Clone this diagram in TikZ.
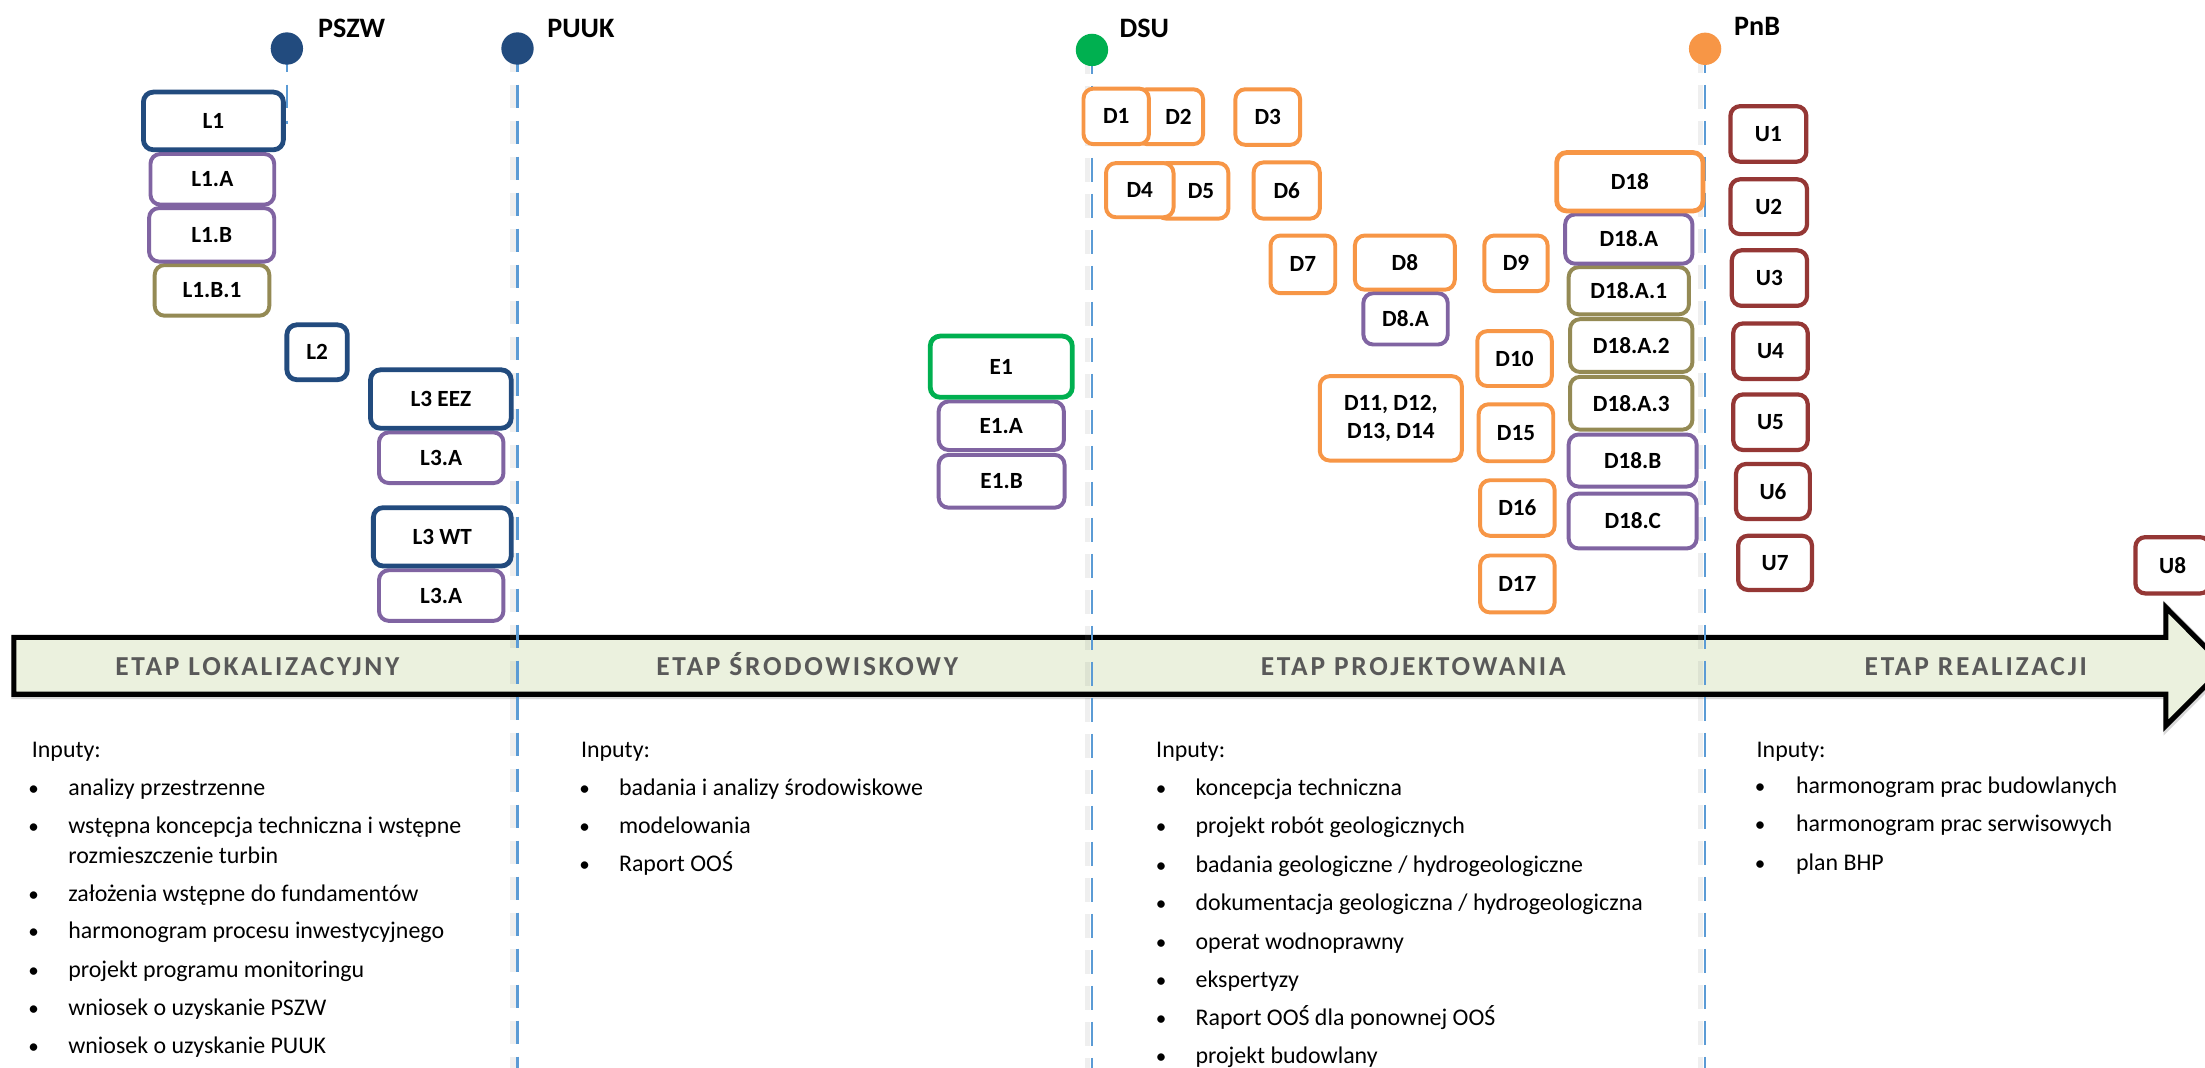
\documentclass[tikz,border=0pt]{standalone}
\usepackage{fontspec}
\setmainfont{Carlito}
\newfontfamily\etapfont{Carlito}[LetterSpace=10]
\definecolor{navy}{RGB}{34,75,126}
\definecolor{purp}{RGB}{128,100,162}
\definecolor{olive}{RGB}{148,138,84}
\definecolor{grn}{RGB}{0,176,80}
\definecolor{orng}{RGB}{247,150,70}
\definecolor{dred}{RGB}{149,55,53}
\definecolor{lineblue}{RGB}{91,155,213}
\definecolor{arrowfill}{RGB}{235,241,222}
\definecolor{etapgray}{RGB}{89,89,89}
\newcommand\mybox[7][]{%
  \pgfmathsetmacro\bxcx{(#3+#5)/2}%
  \pgfmathsetmacro\bxcy{(#4+#6)/2}%
  \pgfmathsetmacro\bxw{#5-#3-3}%
  \pgfmathsetmacro\bxh{#6-#4-3}%
  \node[box,#1,minimum width=\bxw pt,minimum height=\bxh pt] (#2) at (\bxcx,\bxcy) {#7};%
}
\begin{document}
\begin{tikzpicture}[x=1pt,y=-1pt,
  box/.style={draw, rounded corners=7pt, fill=white, line width=2.8pt, inner sep=0pt,
    font=\bfseries\fontsize{16.5}{19.6}\selectfont, align=center},
  thick box/.style={line width=3.4pt},
  ubox/.style={draw=dred, line width=3.0pt},
  milestone/.style={circle, inner sep=0pt, minimum size=23pt},
  mlabel/.style={inner sep=0pt, anchor=base west, font=\bfseries\fontsize{20}{24}\selectfont},
  vline/.style={line width=1.5pt, draw=lineblue, dash pattern=on 17pt off 8.6pt},
  vshadow/.style={line width=4pt, draw=gray, opacity=0.12, dash pattern=on 17pt off 8.6pt,
    transform canvas={xshift=-3.2pt}},
  etap/.style={inner sep=0pt, anchor=base, text=etapgray, font=\etapfont\bfseries\fontsize{19.5}{22}\selectfont},
  txt/.style={inner sep=0pt, anchor=base west, font=\fontsize{17}{20}\selectfont},
  bul/.style={inner sep=0pt, anchor=base, font=\fontsize{15}{20}\selectfont}
]
\useasboundingbox (0,0) rectangle (1568,759);
\fill[white] (0,0) rectangle (1568,759);
\clip (0,0) rectangle (1568,759);

% ---- main arrow ----
\draw[line width=5pt, draw=gray!60, opacity=0.5, line join=miter, transform canvas={shift={(0.8pt,-1pt)}}]
  (9.8,453.3) -- (1540.2,453.3) -- (1540.2,432) -- (1582,474) -- (1540.2,516) -- (1540.2,493.7) -- (9.8,493.7) -- cycle;
\draw[line width=3.6pt, fill=arrowfill, line join=miter]
  (9.8,453.3) -- (1540.2,453.3) -- (1540.2,432) -- (1582,474) -- (1540.2,516) -- (1540.2,493.7) -- (9.8,493.7) -- cycle;

\node[etap] (etap1) at (183,480.3) {ETAP LOKALIZACYJNY};
\node[etap] (etap2) at (574,480.3) {ETAP ŚRODOWISKOWY};
\node[etap] (etap3) at (1005,480.3) {ETAP PROJEKTOWANIA};
\node[etap] (etap4) at (1405,480.3) {ETAP REALIZACJI};

% ---- milestone lines ----
\coordinate (cPSZW) at (204,34.5);
\coordinate (cPUUK) at (368,34.5);
\coordinate (cDSU) at (776.5,35.5);
\coordinate (cPnB) at (1212.5,34.7);
\coordinate (ePSZW) at (204,88);
\coordinate (ePUUK) at (368,770);
\coordinate (eDSU) at (776.5,770);
\coordinate (ePnB) at (1212.5,770);

\draw[vshadow] (cPUUK) -- (ePUUK);
\draw[vshadow] (cDSU) -- (eDSU);
\draw[vshadow] (cPnB) -- (ePnB);
\draw[vline] (cPSZW) -- (ePSZW);
\draw[vline] (cPUUK) -- (ePUUK);
\draw[vline] (cDSU) -- (eDSU);
\draw[vline] (cPnB) -- (ePnB);

\node[milestone, fill=navy] (PSZW) at (cPSZW) {};
\node[milestone, fill=navy] (PUUK) at (cPUUK) {};
\node[milestone, fill=grn] (DSU) at (cDSU) {};
\node[milestone, fill=orng] (PnB) at (cPnB) {};
\node[mlabel] (tPSZW) at (226,26.5) {PSZW};
\node[mlabel] (tPUUK) at (389,26.5) {PUUK};
\node[mlabel] (tDSU) at (796,26.5) {DSU};
\node[mlabel] (tPnB) at (1233,25) {PnB};

% ---- L boxes ----
\mybox[draw=olive]{L1B1}{108.5}{187}{193}{226}{L1.B.1}
\mybox[draw=purp]{L1A}{105.5}{108}{196.5}{147}{L1.A}
\mybox[draw=purp]{L1B}{104.5}{146.5}{196.5}{187.5}{L1.B}
\mybox[draw=navy,thick box]{L1}{100.5}{64}{203}{108}{L1}
\mybox[draw=navy,thick box]{L2}{202.5}{229.5}{248.5}{271.5}{L2}
\mybox[draw=purp]{L3EEZA}{268}{306}{359.5}{345}{L3.A}
\mybox[draw=navy,thick box]{L3EEZ}{262}{261.5}{365}{306}{L3 EEZ}
\mybox[draw=purp]{L3WTA}{268}{404}{359.5}{443}{L3.A}
\mybox[draw=navy,thick box]{L3WT}{264}{359.5}{365}{404}{L3 WT}

% ---- E boxes ----
\mybox[draw=purp]{E1A}{666}{284}{758}{321.5}{E1.A}
\mybox[draw=purp]{E1B}{666}{322}{758.5}{362.5}{E1.B}
\mybox[draw=grn,thick box]{E1}{660}{237.5}{764}{284}{E1}

% ---- D boxes ----
\mybox[draw=orng]{D2}{807}{62}{857}{104}{\hspace*{12pt}D2}
\mybox[draw=orng]{D1}{769}{61.5}{818.5}{104}{D1}
\mybox[draw=orng]{D3}{877}{62}{926}{104.5}{D3}
\mybox[draw=orng]{D5}{821}{114.5}{875}{157}{\hspace*{12pt}D5}
\mybox[draw=orng]{D4}{785}{114.5}{836}{156}{D4}
\mybox[draw=orng]{D6}{890}{114}{940}{157}{D6}
\mybox[draw=orng]{D7}{902}{166}{951}{210}{D7}
\mybox[draw=purp]{D8A}{968}{207}{1031}{246.5}{D8.A}
\mybox[draw=orng]{D8}{962}{166}{1036}{207.5}{D8}
\mybox[draw=orng]{D9}{1054}{166}{1102}{208.5}{D9}
\mybox[draw=orng]{D10}{1049}{234}{1105}{276}{D10}
\mybox[draw=orng]{D11}{937}{266}{1041}{329}{D11, D12,\\D13, D14}
\mybox[draw=orng]{D15}{1050}{286}{1106}{329.5}{D15}
\mybox[draw=orng]{D16}{1051}{340}{1107}{382.5}{D16}
\mybox[draw=orng]{D17}{1051}{393.5}{1107}{437}{D17}
\mybox[draw=olive]{D18A1}{1114}{188.5}{1202.5}{225}{D18.A.1}
\mybox[draw=olive]{D18A2}{1115}{225.5}{1205}{266}{D18.A.2}
\mybox[draw=olive]{D18A3}{1115}{266.5}{1205}{307}{D18.A.3}
\mybox[draw=purp]{D18C}{1114}{349.5}{1208}{391.5}{D18.C}
\mybox[draw=purp]{D18B}{1114}{307.5}{1208}{347.5}{D18.B}
\mybox[draw=purp]{D18A}{1111.5}{151}{1205}{189}{D18.A}
\mybox[draw=orng,thick box]{D18}{1105.5}{107}{1212.5}{151.5}{D18}

% ---- U boxes ----
\mybox[ubox]{U1}{1229}{74}{1286}{116.5}{U1}
\mybox[ubox]{U2}{1229}{126}{1286.5}{168}{U2}
\mybox[ubox]{U3}{1230}{176.5}{1286.5}{219}{U3}
\mybox[ubox]{U4}{1231}{228.5}{1287}{271}{U4}
\mybox[ubox]{U5}{1231}{279}{1287}{321.5}{U5}
\mybox[ubox]{U6}{1233}{328.5}{1288.5}{370.5}{U6}
\mybox[ubox]{U7}{1234.5}{379.5}{1290}{421}{U7}
\mybox[ubox]{U8}{1517}{380.5}{1573}{423.5}{U8}

% ---- inputs column 1 ----
\node[txt] (a0) at (22.5,538.5) {Inputy:};
\node[bul] (ab1) at (24,565.5) {•};
\node[txt] (a1) at (48.4,565.5) {analizy przestrzenne};
\node[bul] (ab2) at (24,592.8) {•};
\node[txt] (a2) at (48.4,592.8) {wstępna koncepcja techniczna i wstępne};
\node[txt] (a2b) at (48.4,614.2) {rozmieszczenie turbin};
\node[bul] (ab3) at (24,641) {•};
\node[txt] (a3) at (48.4,641) {założenia wstępne do fundamentów};
\node[bul] (ab4) at (24,667.6) {•};
\node[txt] (a4) at (48.4,667.6) {harmonogram procesu inwestycyjnego};
\node[bul] (ab5) at (24,695) {•};
\node[txt] (a5) at (48.4,695) {projekt programu monitoringu};
\node[bul] (ab6) at (24,722) {•};
\node[txt] (a6) at (48.4,722) {wniosek o uzyskanie PSZW};
\node[bul] (ab7) at (24,749) {•};
\node[txt] (a7) at (48.4,749) {wniosek o uzyskanie PUUK};

% ---- inputs column 2 ----
\node[txt] (b0) at (413,538.5) {Inputy:};
\node[bul] (bb1) at (415.7,565.5) {•};
\node[txt] (b1) at (440,565.5) {badania i analizy środowiskowe};
\node[bul] (bb2) at (415.7,592.8) {•};
\node[txt] (b2) at (440,592.8) {modelowania};
\node[bul] (bb3) at (415.7,619.8) {•};
\node[txt] (b3) at (440,619.8) {Raport OOŚ};

% ---- inputs column 3 ----
\node[txt] (c0) at (822,538.5) {Inputy:};
\node[bul] (cb1) at (825.7,565.5) {•};
\node[txt] (c1) at (850,565.5) {koncepcja techniczna};
\node[bul] (cb2) at (825.7,592.8) {•};
\node[txt] (c2) at (850,592.8) {projekt robót geologicznych};
\node[bul] (cb3) at (825.7,620.4) {•};
\node[txt] (c3) at (850,620.4) {badania geologiczne / hydrogeologiczne};
\node[bul] (cb4) at (825.7,647.8) {•};
\node[txt] (c4) at (850,647.8) {dokumentacja geologiczna / hydrogeologiczna};
\node[bul] (cb5) at (825.7,674.9) {•};
\node[txt] (c5) at (850,674.9) {operat wodnoprawny};
\node[bul] (cb6) at (825.7,702) {•};
\node[txt] (c6) at (850,702) {ekspertyzy};
\node[bul] (cb7) at (825.7,729.5) {•};
\node[txt] (c7) at (850,729.5) {Raport OOŚ dla ponownej OOŚ};
\node[bul] (cb8) at (825.7,756.3) {•};
\node[txt] (c8) at (850,756.3) {projekt budowlany};

% ---- inputs column 4 ----
\node[txt] (d0) at (1249,538.5) {Inputy:};
\node[bul] (db1) at (1251.6,564.4) {•};
\node[txt] (d1) at (1277,564.4) {harmonogram prac budowlanych};
\node[bul] (db2) at (1251.6,591.6) {•};
\node[txt] (d2) at (1277,591.6) {harmonogram prac serwisowych};
\node[bul] (db3) at (1251.6,619) {•};
\node[txt] (d3) at (1277,619) {plan BHP};
\end{tikzpicture}
\end{document}
